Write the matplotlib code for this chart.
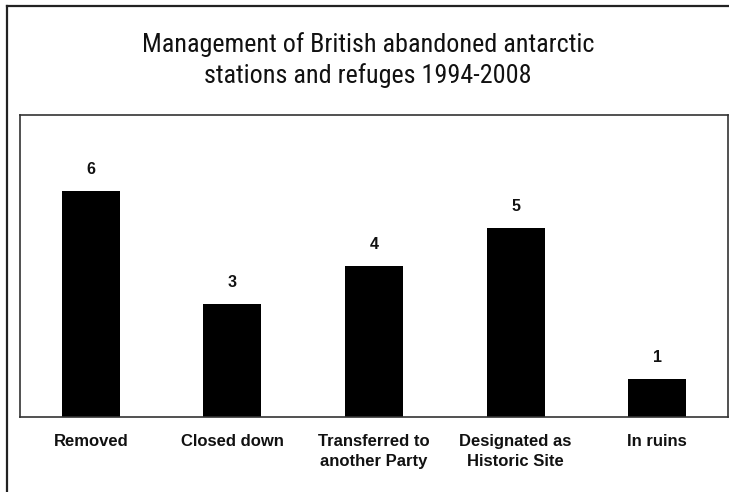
import matplotlib
matplotlib.use("Agg")
import matplotlib.pyplot as plt
from matplotlib import font_manager
from matplotlib.lines import Line2D

categories = ["Removed", "Closed down", "Transferred to\nanother Party",
              "Designated as\nHistoric Site", "In ruins"]
counts = [6, 3, 4, 5, 1]
title_text = "Management of British abandoned antarctic\nstations and refuges 1994-2008"

installed = {f.name for f in font_manager.fontManager.ttflist}
narrow = next((n for n in ["Liberation Sans Narrow", "Roboto Condensed",
                           "Open Sans Condensed", "DejaVu Sans Condensed"]
               if n in installed), "Liberation Sans")
body = "Liberation Sans" if "Liberation Sans" in installed else "DejaVu Sans"

W, H = 729, 492
fig = plt.figure(figsize=(W / 100, H / 100), dpi=100)
fig.patch.set_facecolor("white")

# outer frame (top and left edges)
fig.add_artist(Line2D([7 / W, 1], [1 - 6 / H, 1 - 6 / H], color="#222222",
                      lw=1.6, transform=fig.transFigure))
fig.add_artist(Line2D([7 / W, 7 / W], [0, 1 - 6 / H], color="#222222",
                      lw=1.6, transform=fig.transFigure))

fig.text(368 / W, 1 - 60 / H, title_text, ha="center", va="center",
         fontsize=18.8, family=[narrow, "DejaVu Sans"], color="#111111",
         linespacing=1.32)

ax = fig.add_axes([20 / W, 75 / H, 708 / W, 302 / H])
x = list(range(len(categories)))
bars = ax.bar(x, counts, width=0.41, color="black")
ax.bar_label(bars, labels=[str(c) for c in counts], padding=10,
             fontsize=11.5, fontweight="bold", family=body, color="#111111")

ax.set_xlim(-0.5, 4.5)
ax.set_ylim(0, 8)
ax.set_yticks([])
ax.set_xticks(x)
ax.set_xticklabels(categories, fontsize=12, fontweight="bold", family=body,
                   color="#111111", linespacing=1.45)
ax.tick_params(axis="x", length=0, pad=12)
for s in ax.spines.values():
    s.set_color("#333333")
    s.set_linewidth(1.2)

fig.savefig("out.png", dpi=100, facecolor="white")
